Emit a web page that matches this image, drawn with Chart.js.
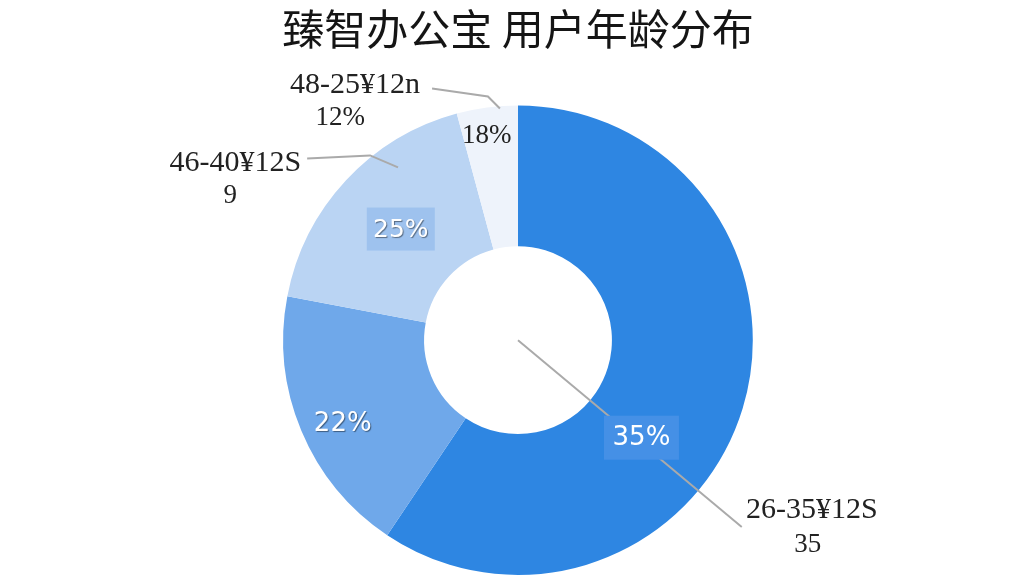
<!DOCTYPE html>
<html>
<head>
<meta charset="utf-8">
<script src="https://cdn.jsdelivr.net/npm/chart.js@4/dist/chart.umd.min.js"></script>
<style>
  html, body { margin: 0; padding: 0; background: #fff; }
  #wrap { width: 1024px; height: 576px; }
</style>
</head>
<body>
<div id="wrap"><canvas id="ageChart" width="1024" height="576"></canvas></div>
<script>
// --- data ---
const categories = ['26-35¥12S', '', '46-40¥12S', '48-25¥12n'];
const shares = [59.4, 18.6, 17.8, 4.2];          // arc sizes as drawn
const pctLabels = ['35%', '22%', '25%', '18%'];  // printed inside the slices
const subLabels = ['35', '', '9', '12%'];        // second line of outside labels
const sliceColors = ['#2e86e2', '#6fa8ea', '#bad4f3', '#eef3fb'];

// where each inside label sits: fraction along the arc, fraction across the ring
const innerPos = [
  { a: 0.60, r: 0.45, color: '#ffffff', font: '26px "DejaVu Sans"', box: '#4590e6', bw: 75, bh: 44, shadow: false },
  { a: 0.46, r: 0.71, color: '#ffffff', font: '26px "DejaVu Sans"', box: null, shadow: true },
  { a: 0.51, r: 0.48, color: '#ffffff', font: '25px "DejaVu Sans"', box: '#9ec2ee', bw: 68, bh: 43, shadow: true },
  { a: 0.43, r: 0.81, color: '#222222', font: '27px "Liberation Serif"', box: null, shadow: false }
];

// outside labels, in units of the outer radius from the chart centre
const outerPos = [
  { line: [[0, 0], [0.953, 0.796]], t1: [1.251, 0.723], t2: [1.234, 0.872] },
  null,
  { line: [[-0.898, -0.774], [-0.630, -0.787], [-0.511, -0.736]], t1: [-1.204, -0.753], t2: [-1.226, -0.613] },
  { line: [[-0.366, -1.072], [-0.128, -1.038], [-0.077, -0.987]], t1: [-0.694, -1.085], t2: [-0.757, -0.945] }
];

const labelPlugin = {
  id: 'sliceLabels',
  afterDatasetsDraw(chart) {
    const ctx = chart.ctx;
    const arcs = chart.getDatasetMeta(0).data;
    const first = arcs[0].getProps(['x', 'y', 'outerRadius'], true);
    const cx = first.x, cy = first.y, R = first.outerRadius;
    const at = p => [cx + p[0] * R, cy + p[1] * R];

    ctx.save();
    ctx.textAlign = 'center';
    ctx.textBaseline = 'middle';

    // leader lines and outside text
    outerPos.forEach((o, i) => {
      if (!o) return;
      ctx.strokeStyle = '#aaaaaa';
      ctx.lineWidth = 2;
      ctx.beginPath();
      o.line.forEach((p, k) => {
        const [x, y] = at(p);
        if (k === 0) ctx.moveTo(x, y); else ctx.lineTo(x, y);
      });
      ctx.stroke();
      ctx.fillStyle = '#222222';
      ctx.font = '30px "Liberation Serif"';
      const [x1, y1] = at(o.t1);
      ctx.fillText(categories[i], x1, y1);
      ctx.font = '27px "Liberation Serif"';
      const [x2, y2] = at(o.t2);
      ctx.fillText(subLabels[i], x2, y2);
    });

    // inside percentages
    arcs.forEach((arc, i) => {
      const p = arc.getProps(['x', 'y', 'startAngle', 'endAngle', 'innerRadius', 'outerRadius'], true);
      const s = innerPos[i];
      const ang = p.startAngle + s.a * (p.endAngle - p.startAngle);
      const rr = p.innerRadius + s.r * (p.outerRadius - p.innerRadius);
      const x = p.x + rr * Math.cos(ang);
      const y = p.y + rr * Math.sin(ang);
      if (s.box) {
        ctx.fillStyle = s.box;
        ctx.fillRect(x - s.bw / 2, y - s.bh / 2, s.bw, s.bh);
      }
      ctx.font = s.font;
      if (s.shadow) {
        ctx.shadowColor = 'rgba(0,0,0,0.45)';
        ctx.shadowOffsetX = 1;
        ctx.shadowOffsetY = 1;
        ctx.shadowBlur = 1;
      }
      ctx.fillStyle = s.color;
      ctx.fillText(pctLabels[i], x, y + 1);
      ctx.shadowColor = 'transparent';
    });
    ctx.restore();
  }
};

new Chart(document.getElementById('ageChart'), {
  type: 'doughnut',
  data: {
    labels: categories,
    datasets: [{
      data: shares,
      backgroundColor: sliceColors,
      borderWidth: 0,
      hoverOffset: 0,
      offset: 0
    }]
  },
  options: {
    responsive: false,
    animation: false,
    cutout: '40%',
    layout: { padding: { left: 12, right: 0, top: 0, bottom: 1 } },
    plugins: {
      legend: { display: false },
      tooltip: { enabled: false },
      title: {
        display: true,
        text: '臻智办公宝 用户年龄分布',
        color: '#151515',
        font: { family: '"Noto Sans CJK SC"', size: 42, weight: 'normal', lineHeight: 1.2 },
        padding: { top: 4, bottom: 51 }
      }
    }
  },
  plugins: [labelPlugin]
});
</script>
</body>
</html>
